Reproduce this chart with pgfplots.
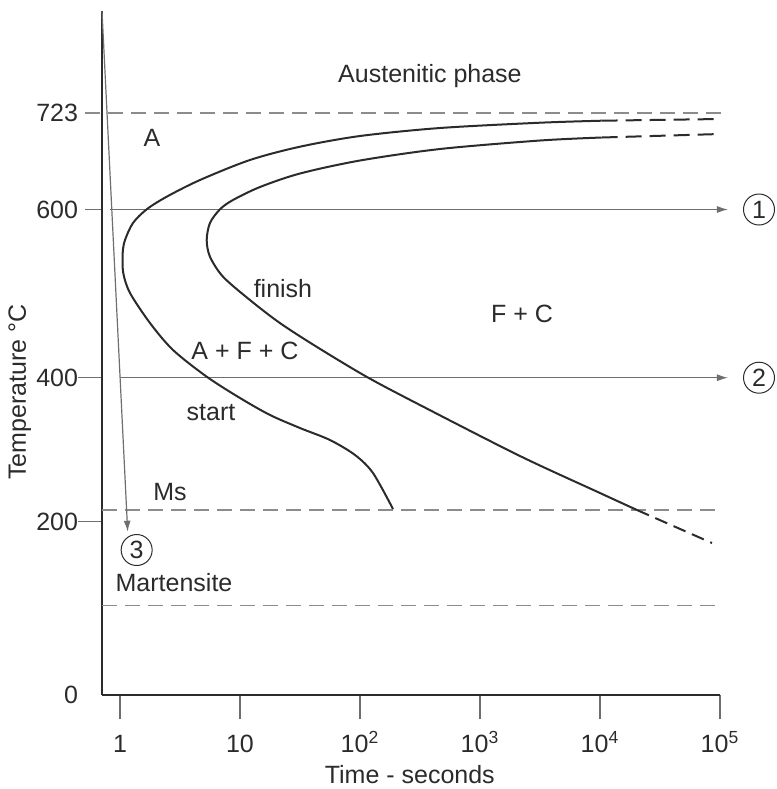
\documentclass[border=0pt]{standalone}
\usepackage{pgfplots}
\pgfplotsset{compat=1.18}
\usepackage{fontspec}
\setmainfont{Liberation Sans}
\usetikzlibrary{arrows.meta}
\definecolor{ink}{HTML}{2B2B2B}
\definecolor{dashgray}{HTML}{8C8C8C}
\definecolor{arrowgray}{HTML}{6E6E6E}
\newcommand\lf{\fontsize{12.5}{15}\selectfont}
\begin{document}
\begin{tikzpicture}
\useasboundingbox (0,0) rectangle (388.5pt,-394.5pt);
\begin{axis}[
  at={(51pt,-347.5pt)}, anchor=south west,
  scale only axis, width=309pt, height=342pt,
  xmode=log, xmin=0.708, xmax=1e5,
  ymin=0, ymax=684,
  axis x line*=bottom, axis y line*=left,
  axis line style={ink, line width=0.9pt, -},
  clip=false,
  tick align=outside,
  major tick length=12pt,
  tick style={arrowgray, line width=0.6pt},
  ytick style={shorten <=3.5pt},
  xminorticks=false,
  xtick={1,10,100,1000,10000,100000},
  xticklabels={1,10,10\textsuperscript{2},10\textsuperscript{3},10\textsuperscript{4},10\textsuperscript{5}},
  xticklabel style={text height=12pt, text depth=0pt, yshift=-1pt},
  ytick={173.3,317.3,485.5}, yticklabels={200,400,600},
  extra y ticks={0,582}, extra y tick labels={0,723},
  extra y tick style={tick style={draw=none}},
  yticklabel style={xshift=3.5pt},
  ticklabel style={font=\lf, text=ink},
]
% horizontal dashed reference lines
\addplot[dashgray, line width=0.6pt, dash pattern=on 7.5pt off 4pt] coordinates {(0.511,582) (103900,582)};
\addplot[dashgray, line width=0.6pt, dash pattern=on 7.5pt off 4pt] coordinates {(0.708,185) (103900,185)};
\addplot[dashgray, line width=0.6pt, dash pattern=on 7.5pt off 4pt] coordinates {(0.708,89.3) (103900,89.3)};
% isothermal paths 1 and 2, cooling path 3
\addplot[arrowgray, line width=0.6pt, -{Latex[length=5.5pt,width=3.5pt]}] coordinates {(0.825,485.5) (116600,485.5)};
\addplot[arrowgray, line width=0.6pt, -{Latex[length=5.5pt,width=3.5pt]}] coordinates {(1.0,317.3) (116600,317.3)};
\addplot[arrowgray, line width=0.6pt, -{Latex[length=5.5pt,width=3.5pt]}] coordinates {(0.708,684) (1.159,163.3)};
% start curve
\addplot[ink, line width=1pt, smooth, tension=0.5] coordinates {
(10330,574.3) (3162,572.3) (464,567) (100,559) (31.6,548.3) (12.1,535) (4.64,515)
(2.45,498.3) (1.669,485.7) (1.283,472) (1.101,455) (1.053,442) (1.065,422) (1.212,402)
(1.778,372) (2.766,345) (5.28,318.3) (10,297) (17.8,280) (31.6,267) (56.2,255)
(90.9,240) (128.3,222) (188.4,186)};
\addplot[ink, line width=1pt, dash pattern=on 8pt off 4pt] coordinates {(10330,574.3) (100000,576)};
% finish curve
\addplot[ink, line width=1pt, smooth, tension=0.5] coordinates {
(10330,557.5) (3162,554.5) (464,546) (100,534.5) (31.6,521.5) (14.68,508) (8.74,495)
(6.81,485.7) (5.62,472) (5.28,455) (5.62,438.3) (7.22,418.3) (12.1,395) (21.5,372)
(43.8,348) (114.4,318) (316,290) (2154,239) (10000,202) (20330,185)};
\addplot[ink, line width=1pt, dash pattern=on 8pt off 4pt] coordinates {(10330,557.5) (100000,561)};
\addplot[ink, line width=1pt, dash pattern=on 6.5pt off 3.5pt] coordinates {(20330,185) (85770,152)};
% labels
\node[font=\lf, text=ink] at (axis cs:383,619) {Austenitic phase};
\node[font=\lf, text=ink] at (axis cs:1.848,557) {A};
\node[font=\lf, text=ink] at (axis cs:22.8,406) {finish};
\node[font=\lf, text=ink] at (axis cs:2239,381) {F + C};
\node[font=\lf, text=ink] at (axis cs:11.0,344) {A + F + C};
\node[font=\lf, text=ink] at (axis cs:5.73,282) {start};
\node[font=\lf, text=ink] at (axis cs:2.61,203) {Ms};
\node[font=\lf, text=ink] at (axis cs:2.82,112) {Martensite};
\node[draw=ink, circle, minimum size=15.5pt, inner sep=0pt, line width=0.5pt, font=\lf, text=ink] at (axis cs:211400,485.5) {1};
\node[draw=ink, circle, minimum size=15.5pt, inner sep=0pt, line width=0.5pt, font=\lf, text=ink] at (axis cs:211400,317.3) {2};
\node[draw=ink, circle, minimum size=15.5pt, inner sep=0pt, line width=0.5pt, font=\lf, text=ink] at (axis cs:1.377,145) {3};
\node[font=\lf, text=ink] at (axis description cs:0.498,-0.117) {Time - seconds};
\node[font=\lf, text=ink, rotate=90] at (axis description cs:-0.133,0.443) {Temperature °C};
\end{axis}
\end{tikzpicture}
\end{document}
